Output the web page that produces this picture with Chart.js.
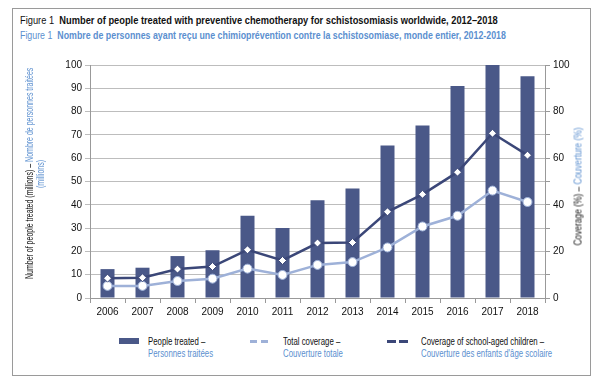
<!DOCTYPE html>
<html>
<head>
<meta charset="utf-8">
<script src="https://cdn.jsdelivr.net/npm/chart.js@4"></script>
<style>
  body { margin: 0; width: 600px; height: 384px; background: #fff; position: relative; overflow: hidden;
         font-family: "Liberation Sans", sans-serif; }
  #frame { position: absolute; left: 12px; top: 8px; width: 577px; height: 366px; border: 1px solid #9a9a9a; }
  .title { position: absolute; left: 20px; font-size: 10.5px; white-space: nowrap; transform-origin: left center; }
  .title b { font-weight: bold; }
  .fig { font-weight: normal; margin-right: 3px; }
  .blue { color: #5b8fcf; }
  #t1 { top: 14px; color: #111; transform: scaleX(0.885); }
  #t2 { top: 29px; transform: scaleX(0.84); }
  #chartBox { position: absolute; left: 0; top: 50px; width: 600px; height: 270px; }
  .ytitle { position: absolute; font-size: 10px; text-align: center; transform: rotate(-90deg) scaleX(0.7);
            transform-origin: center; white-space: nowrap; line-height: 11px; color: #111; }
  #ylt { left: -115px; top: 163px; width: 300px; height: 22px; }
  #yrt { left: 478px; top: 181px; width: 200px; height: 11px; transform: rotate(-90deg) scaleX(0.84); }
  .leg { position: absolute; top: 336px; font-size: 10px; line-height: 12px; color: #111; white-space: nowrap;
         transform: scaleX(0.78); transform-origin: left top; }
  .sw { position: absolute; }
</style>
</head>
<body>
<div id="frame"></div>
<div class="title" id="t1"><span class="fig">Figure 1</span> <b>Number of people treated with preventive chemotherapy for schistosomiasis worldwide, 2012–2018</b></div>
<div class="title blue" id="t2"><span class="fig">Figure 1</span> <b>Nombre de personnes ayant reçu une chimioprévention contre la schistosomiase, monde entier, 2012-2018</b></div>
<div id="chartBox"><canvas id="chart" width="600" height="270"></canvas></div>
<div class="ytitle" id="ylt">Number of people treated (millions) – <span class="blue">Nombre de personnes traitées<br>(millions)</span></div>
<div class="ytitle" id="yrt">Coverage (%) – <span class="blue">Couverture (%)</span></div>

<div class="sw" style="left:119px;width:20px;background:#4a5888;top:338px;height:6px"></div>
<div class="leg" style="left:148px">People treated –<br><span class="blue">Personnes traitées</span></div>
<div class="sw" style="left:250px;width:7px;background:#9eb1d8;top:340px;height:3px"></div>
<div class="sw" style="left:261px;width:7px;background:#9eb1d8;top:340px;height:3px"></div>
<div class="leg" style="left:283px">Total coverage –<br><span class="blue">Couverture totale</span></div>
<div class="sw" style="left:387px;width:9px;background:#3b4778;top:340px;height:3px"></div>
<div class="sw" style="left:399px;width:9px;background:#3b4778;top:340px;height:3px"></div>
<div class="leg" style="left:421px">Coverage of school-aged children –<br><span class="blue">Couverture des enfants d'âge scolaire</span></div>

<script>
const years = ['2006', '2007', '2008', '2009', '2010', '2011', '2012', '2013', '2014', '2015', '2016', '2017', '2018'];
const peopleTreated = [12.4, 13, 18, 20.5, 35.3, 30, 42, 47, 65.5, 74, 91, 100, 95.2];      // millions
const totalCoverage = [5.2, 5.2, 7.3, 8.3, 12.6, 9.9, 14.2, 15.4, 21.7, 30.7, 35.3, 46.1, 41.2]; // %
const schoolCoverage = [8.5, 8.7, 12.4, 13.5, 20.7, 16.1, 23.6, 23.8, 37, 44.5, 54, 70.7, 61.3]; // %

const tickFont = { family: '"Liberation Sans", sans-serif', size: 10 };

const chart = new Chart(document.getElementById('chart'), {
  type: 'bar',
  data: {
    labels: years,
    datasets: [
      {
        type: 'line',
        label: 'Coverage of school-aged children',
        data: schoolCoverage,
        yAxisID: 'y1',
        borderColor: '#3b4778',
        borderWidth: 2.5,
        pointStyle: 'rectRot',
        pointRadius: 4,
        pointBackgroundColor: '#fff',
        pointBorderColor: '#3b4778',
        pointBorderWidth: 1,
        order: 1
      },
      {
        type: 'line',
        label: 'Total coverage',
        data: totalCoverage,
        yAxisID: 'y1',
        borderColor: '#9eb1d8',
        borderWidth: 2.5,
        pointStyle: 'circle',
        pointRadius: 4.5,
        pointBackgroundColor: '#fff',
        pointBorderColor: '#9eb1d8',
        pointBorderWidth: 1,
        order: 2
      },
      {
        label: 'People treated',
        data: peopleTreated,
        yAxisID: 'y',
        backgroundColor: '#4a5888',
        barPercentage: 0.4,
        categoryPercentage: 1,
        order: 3
      }
    ]
  },
  options: {
    responsive: false,
    animation: false,
    layout: { padding: { top: 15, left: 0, right: 0, bottom: 0 } },
    plugins: { legend: { display: false }, tooltip: { enabled: false } },
    scales: {
      x: {
        grid: { drawOnChartArea: false, offset: true, tickLength: 5, color: '#999' },
        border: { color: '#999' },
        ticks: { font: tickFont, color: '#111', padding: 3 },
        afterFit: s => { s.height = 22; }
      },
      y: {
        position: 'left',
        min: 0, max: 100,
        grid: { color: '#bdbdbd', tickLength: 5 },
        border: { color: '#999' },
        ticks: { stepSize: 10, font: tickFont, color: '#111', padding: 3 },
        afterFit: s => { s.width = 90; }
      },
      y1: {
        position: 'right',
        min: 0, max: 100,
        grid: { drawOnChartArea: false, tickLength: 5, color: '#999' },
        border: { color: '#999' },
        ticks: { stepSize: 10, font: tickFont, color: '#111', padding: 3,
                 callback: v => (v % 20 === 0 ? v : '') },
        afterFit: s => { s.width = 55; }
      }
    }
  }
});
</script>
</body>
</html>
